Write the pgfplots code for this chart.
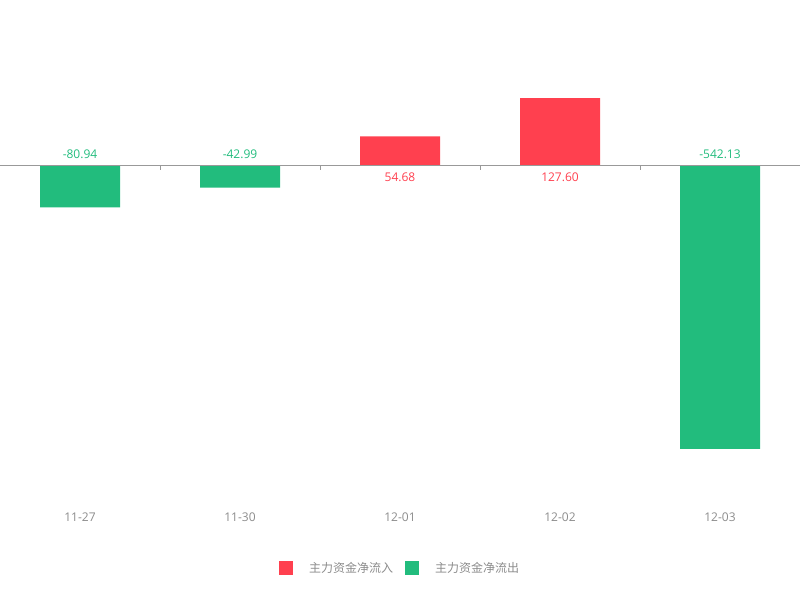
\documentclass[border=0pt]{standalone}
\usepackage{fontspec}
\setmainfont{Open Sans}
\newfontfamily\cjk{Noto Sans CJK SC}
\usepackage{pgfplots}
\pgfplotsset{compat=1.18}
\definecolor{inred}{HTML}{FF404F}
\definecolor{outgreen}{HTML}{22BC7D}
\definecolor{axgray}{HTML}{999999}
\definecolor{lblgray}{HTML}{8C8C8C}
\begin{document}
\begin{tikzpicture}[x=1pt,y=1pt]
\begin{axis}[
  scale only axis,
  width=800pt, height=600pt,
  xmin=-0.5, xmax=4.5,
  ymin=-830.4, ymax=315,
  hide axis,
  clip=false,
  bar width=0.5,
  font=\fontsize{12}{14}\selectfont,
  legend style={at={(0.5,0.0533)}, anchor=center, draw=none, fill=none,
    legend columns=2, font=\fontsize{12}{14}\selectfont\cjk, text=lblgray,
    /tikz/every even column/.append style={column sep=10pt},
    inner sep=0pt},
  legend image code/.code={\fill[#1] (0pt,-7pt) rectangle (14pt,7pt);},
]
% inflow (red) and outflow (green)
\addplot[ybar, bar shift=0pt, fill=inred, draw=none] coordinates {(2,54.68) (3,127.60)};
\addplot[ybar, bar shift=0pt, fill=outgreen, draw=none] coordinates {(0,-80.94) (1,-42.99) (4,-542.13)};
\legend{\hspace{14pt}主力资金净流入, \hspace{14pt}主力资金净流出}
% value labels on the zero line
\addplot[draw=none, forget plot, nodes near coords, point meta=explicit symbolic,
  nodes near coords style={anchor=south, text=outgreen, inner sep=2pt, yshift=4pt}]
  coordinates {(0,0)[-80.94] (1,0)[-42.99] (4,0)[-542.13]};
\addplot[draw=none, forget plot, nodes near coords, point meta=explicit symbolic,
  nodes near coords style={anchor=north, text=inred, inner sep=2pt, yshift=-5.5pt}]
  coordinates {(2,0)[54.68] (3,0)[127.60]};
% zero line and category ticks
\draw[axgray, line width=1pt] (axis cs:-0.5,0) -- (axis cs:4.5,0);
\pgfplotsinvokeforeach{0.5,1.5,2.5,3.5}{
  \draw[axgray, line width=1pt] (axis cs:#1,0) -- ++(0pt,-4.5pt);
}
\node[text=lblgray] at (axis cs:0,-671.9) {11-27};
\node[text=lblgray] at (axis cs:1,-671.9) {11-30};
\node[text=lblgray] at (axis cs:2,-671.9) {12-01};
\node[text=lblgray] at (axis cs:3,-671.9) {12-02};
\node[text=lblgray] at (axis cs:4,-671.9) {12-03};
\end{axis}
\pgfresetboundingbox
\useasboundingbox (0,0) rectangle (800pt,600pt);
\end{tikzpicture}
\end{document}
